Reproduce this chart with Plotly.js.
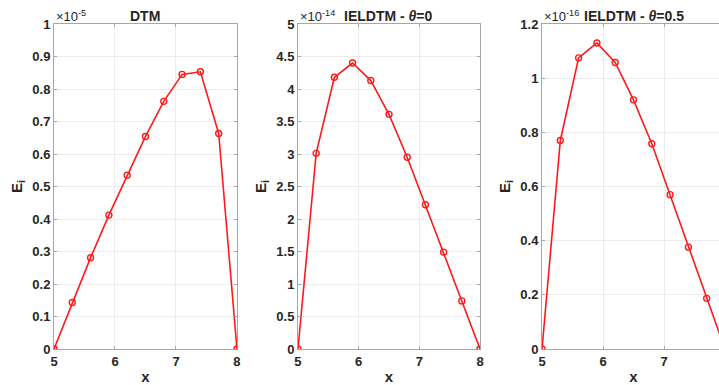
<!DOCTYPE html>
<html>
<head>
<meta charset="utf-8">
<script src="https://cdn.plot.ly/plotly-3.0.1.min.js"></script>
<style>
html, body { margin: 0; padding: 0; overflow: hidden; background: #fff; }
#chart { width: 727px; height: 385px; }
</style>
</head>
<body>
<div id="chart"></div>
<script>
// ---- data ----
const xNodes = [5, 5.3, 5.6, 5.9, 6.2, 6.5, 6.8, 7.1, 7.4, 7.7, 8];
const errDTM = [0, 0.143, 0.281, 0.412, 0.535, 0.654, 0.762, 0.845, 0.853, 0.663, 0];        // x 1e-5
const errTheta0 = [0, 3.01, 4.18, 4.40, 4.13, 3.61, 2.95, 2.22, 1.49, 0.74, 0];              // x 1e-14
const errTheta05 = [0, 0.77, 1.075, 1.13, 1.058, 0.92, 0.758, 0.57, 0.376, 0.187, 0];        // x 1e-16
const panelTitles = ['DTM', 'IELDTM - <i>θ</i>=0', 'IELDTM - <i>θ</i>=0.5'];
const exponents = ['-5', '-14', '-16'];
const yRanges = [[0, 1], [0, 5], [0, 1.2]];
const yDticks = [0.1, 0.5, 0.2];
const xTicks = [5, 6, 7, 8];

const series = [errDTM, errTheta0, errTheta05];
const domains = [[0, 0.2727], [0.3636, 0.6349], [0.7273, 1]];
const txtColor = '#262626';
const axisColor = '#a6a6a6';
const gridColor = '#ececec';
const fontFam = '"Liberation Sans", Arial, sans-serif';

const traces = series.map((ys, i) => ({
  x: xNodes, y: ys,
  xaxis: i === 0 ? 'x' : 'x' + (i + 1),
  yaxis: i === 0 ? 'y' : 'y' + (i + 1),
  mode: 'lines+markers',
  line: { color: '#ff1a1a', width: 1.6 },
  marker: { symbol: 'circle-open', size: 6, color: '#ff1a1a', line: { width: 1.4 } },
  cliponaxis: true,
  showlegend: false,
  hoverinfo: 'skip'
}));

const layout = {
  width: 727, height: 385,
  margin: { l: 54, r: 2, t: 24, b: 36 },
  paper_bgcolor: '#ffffff', plot_bgcolor: '#ffffff',
  font: { family: fontFam, color: txtColor, size: 13 },
  annotations: []
};

for (let i = 0; i < 3; i++) {
  const xa = i === 0 ? 'xaxis' : 'xaxis' + (i + 1);
  const ya = i === 0 ? 'yaxis' : 'yaxis' + (i + 1);
  const ya_ref = i === 0 ? 'y' : 'y' + (i + 1);
  const xa_ref = i === 0 ? 'x' : 'x' + (i + 1);
  layout[xa] = {
    domain: domains[i], anchor: ya_ref,
    range: [5, 8], tickvals: xTicks,
    ticks: 'inside', ticklen: 3, tickcolor: axisColor,
    showline: true, linecolor: axisColor, linewidth: 1, mirror: 'allticks',
    showgrid: true, gridcolor: gridColor, zeroline: false,
    tickfont: { family: fontFam, size: 13, color: txtColor, weight: 'bold' },
    title: { text: 'x', font: { family: fontFam, size: 15, color: txtColor, weight: 'bold' }, standoff: 4 }
  };
  layout[ya] = {
    domain: [0, 1], anchor: xa_ref,
    range: yRanges[i], dtick: yDticks[i], tick0: 0,
    ticks: 'inside', ticklen: 3, tickcolor: axisColor,
    showline: true, linecolor: axisColor, linewidth: 1, mirror: 'allticks',
    showgrid: true, gridcolor: gridColor, zeroline: false,
    tickfont: { family: fontFam, size: 13, color: txtColor, weight: 'bold' },
    title: { text: 'E<sub>i</sub>', font: { family: fontFam, size: 15, color: txtColor, weight: 'bold' }, standoff: 6 }
  };
  layout.annotations.push({
    text: '<b>' + panelTitles[i] + '</b>',
    xref: xa_ref + ' domain', yref: 'paper',
    x: 0.5, y: 1, yshift: -2, xanchor: 'center', yanchor: 'bottom',
    showarrow: false, font: { family: fontFam, size: 14, color: txtColor }
  });
  layout.annotations.push({
    text: '×10<sup>' + exponents[i] + '</sup>',
    xref: xa_ref + ' domain', yref: 'paper',
    x: 0, y: 1, xshift: 0, yshift: -2, xanchor: 'left', yanchor: 'bottom',
    showarrow: false, font: { family: fontFam, size: 13, color: txtColor }
  });
}

Plotly.newPlot('chart', traces, layout, { displayModeBar: false, staticPlot: true });
</script>
</body>
</html>
